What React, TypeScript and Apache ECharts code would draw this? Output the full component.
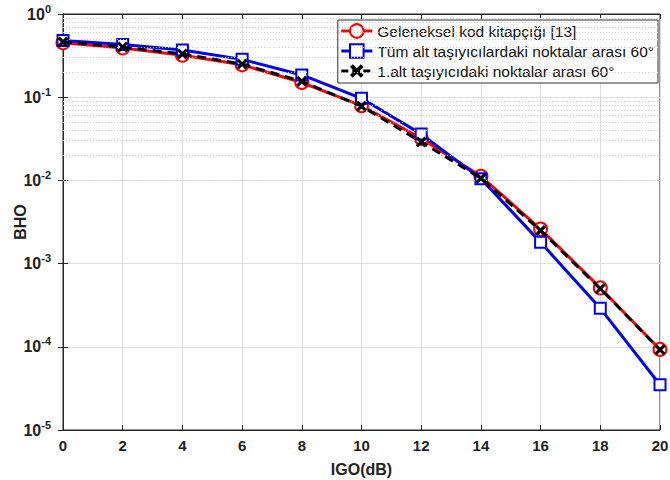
import React, { useEffect, useRef } from "react";
import * as echarts from "echarts";

const snrDb = [0, 2, 4, 6, 8, 10, 12, 14, 16, 18, 20];
const geleneksel = [0.45, 0.39, 0.32, 0.245, 0.15, 0.079, 0.032, 0.0112, 0.0026, 0.00051, 0.000093];
const tumAlt = [0.48, 0.43, 0.37, 0.285, 0.185, 0.097, 0.036, 0.0105, 0.0018, 0.00029, 0.000035];
const birAlt = [0.46, 0.4, 0.33, 0.25, 0.155, 0.078, 0.029, 0.0106, 0.0025, 0.0005, 0.000092];

const seriesNames = [
  "Geleneksel kod kitapçığı [13]",
  "Tüm alt taşıyıcılardaki noktalar arası 60°",
  "1.alt taşıyıcıdaki noktalar arası 60°",
];
const seriesColors = ["#ff0000", "#0000ff", "#000000"];
const xTicks = [0, 2, 4, 6, 8, 10, 12, 14, 16, 18, 20];
const yDecades = [-5, -4, -3, -2, -1, 0];
const minorMultipliers = [2, 3, 4, 5, 6, 7, 8, 9];

const FONT = "'Liberation Sans', Arial, Helvetica, sans-serif";
const X_SYMBOL = "path://M0,2L2,0L5,3L8,0L10,2L7,5L10,8L8,10L5,7L2,10L0,8L3,5Z";
const DASH = [9, 6];

export default function App() {
  const ref = useRef<HTMLDivElement>(null);
  useEffect(() => {
    document.body.style.margin = "0";
    if (!ref.current) return;
    const chart = echarts.init(ref.current, undefined, { renderer: "svg" });
    const minorVals: number[] = [];
    yDecades.slice(0, -1).forEach((d) => {
      minorMultipliers.forEach((m) => minorVals.push(m * Math.pow(10, d)));
    });
    const pairs = (ys: number[]) => snrDb.map((x, i) => [x, ys[i]]);
    chart.setOption({
      animation: false,
      backgroundColor: "#ffffff",
      textStyle: { fontFamily: FONT },
      grid: {
        left: 63,
        right: 10,
        top: 14,
        bottom: 50,
        containLabel: false,
        outerBoundsMode: "none",
        show: true,
        borderColor: "#262626",
        borderWidth: 1,
        backgroundColor: "transparent",
      },
      legend: {
        orient: "vertical",
        right: 12,
        top: 20,
        backgroundColor: "#ffffff",
        borderColor: "#333333",
        borderWidth: 1,
        padding: [3, 4, 4, 2],
        itemGap: 4,
        itemWidth: 31,
        itemHeight: 17,
        textStyle: { fontSize: 15.5, color: "#111", fontFamily: FONT },
        data: seriesNames.map((n, i) => ({
          name: n,
          lineStyle: { color: seriesColors[i], width: 3, type: i === 2 ? [7, 4] : "solid" },
        })),
      },
      xAxis: [
        {
          type: "value",
          min: 0,
          max: 20,
          interval: 2,
          name: "IGO(dB)",
          nameLocation: "middle",
          nameGap: 31,
          nameMoveOverlap: false,
          nameTextStyle: { fontSize: 16, fontWeight: "bold", color: "#222", fontFamily: FONT },
          axisLine: { show: true, lineStyle: { color: "#262626" } },
          axisTick: { inside: true, length: 5, lineStyle: { color: "#262626" } },
          axisLabel: {
            fontSize: 15,
            fontWeight: "bold",
            color: "#222",
            margin: 8,
            fontFamily: FONT,
            formatter: (v: number) => (xTicks.includes(v) ? String(v) : ""),
          },
          splitLine: { show: true, lineStyle: { color: "#dedede", width: 1 } },
        },
        {
          type: "value",
          position: "top",
          min: 0,
          max: 20,
          interval: 2,
          axisLine: { show: true, lineStyle: { color: "#262626" } },
          axisTick: { inside: true, length: 5, lineStyle: { color: "#262626" } },
          axisLabel: { show: false },
          splitLine: { show: false },
        },
      ],
      yAxis: [
        {
          type: "log",
          logBase: 10,
          min: 1e-5,
          max: 1,
          name: "BHO",
          nameLocation: "middle",
          nameGap: 35,
          nameMoveOverlap: false,
          nameTextStyle: { fontSize: 16, fontWeight: "bold", color: "#222", fontFamily: FONT },
          axisLine: { show: true, lineStyle: { color: "#262626" } },
          axisTick: { inside: true, length: 5, lineStyle: { color: "#262626" } },
          axisLabel: {
            margin: 12,
            fontSize: 16,
            fontWeight: "bold",
            color: "#222",
            fontFamily: FONT,
            formatter: (v: number) => {
              const e = Math.round(Math.log10(v));
              return `{b|10}{e|${e}}`;
            },
            rich: {
              b: { fontSize: 16, fontWeight: "bold", color: "#222", fontFamily: FONT },
              e: { fontSize: 11, fontWeight: "bold", color: "#222", fontFamily: FONT, padding: [0, 0, 11, 0] },
            },
          },
          splitLine: { show: true, lineStyle: { color: "#dedede", width: 1 } },
        },
        {
          type: "log",
          logBase: 10,
          min: 1e-5,
          max: 1,
          position: "right",
          axisLine: { show: true, lineStyle: { color: "#262626" } },
          axisTick: { inside: true, length: 5, lineStyle: { color: "#262626" } },
          axisLabel: { show: false },
          splitLine: { show: false },
        },
      ],
      series: [
        {
          name: "minorGrid",
          type: "line",
          data: [],
          silent: true,
          markLine: {
            silent: true,
            symbol: ["none", "none"],
            label: { show: false },
            lineStyle: { color: "#d0d0d0", type: [1, 2], width: 1 },
            data: minorVals.map((v) => ({ yAxis: v })),
          },
          z: 1,
        },
        {
          name: seriesNames[0],
          type: "line",
          data: pairs(geleneksel),
          symbol: "emptyCircle",
          symbolSize: 13,
          lineStyle: { color: seriesColors[0], width: 3 },
          itemStyle: { color: seriesColors[0], borderColor: seriesColors[0], borderWidth: 2.5 },
          z: 3,
        },
        {
          name: seriesNames[1],
          type: "line",
          data: pairs(tumAlt),
          symbol: "emptyRect",
          symbolSize: 11,
          lineStyle: { color: seriesColors[1], width: 3 },
          itemStyle: { color: seriesColors[1], borderColor: seriesColors[1], borderWidth: 2 },
          z: 4,
        },
        {
          name: seriesNames[2],
          type: "line",
          data: pairs(birAlt),
          symbol: X_SYMBOL,
          symbolSize: 11,
          lineStyle: { color: seriesColors[2], width: 3, type: DASH },
          itemStyle: { color: seriesColors[2] },
          z: 5,
        },
      ],
    });
    return () => chart.dispose();
  }, []);
  return (
    <div
      ref={ref}
      style={{ width: 670, height: 480, position: "absolute", left: 0, top: 0 }}
    />
  );
}
